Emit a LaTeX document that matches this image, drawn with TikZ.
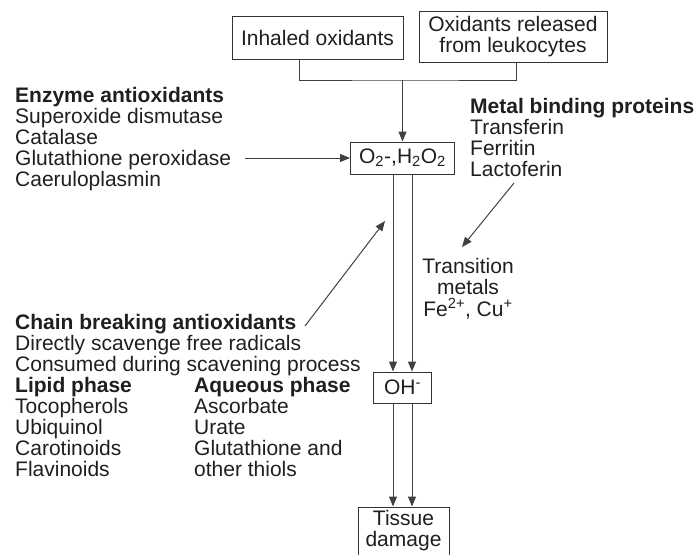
\documentclass[tikz,border=0pt]{standalone}
\usepackage{fontspec}
\setmainfont{Liberation Sans}
\usetikzlibrary{arrows.meta,calc}

\begin{document}
\begin{tikzpicture}[x=1pt,y=-1pt,
    every node/.style={font=\fontsize{21}{21}\selectfont,text=black!88},
    box/.style={draw=black!80,line width=1pt,inner sep=0pt,align=center},
    txt/.style={inner sep=0pt,align=left,anchor=base west},
    line/.style={line width=1pt,draw=black!75},
    arr/.style={line,-{Triangle[length=10pt,width=8pt]}}]
    \useasboundingbox (0,0) rectangle (698,554);

    % oxidant sources
    \node[box,minimum width=171pt,minimum height=43pt] (inhaled) at (317.5,37.5) {Inhaled oxidants};
    \node[box,minimum width=188pt,minimum height=51pt] (released) at (513,36.5) {Oxidants released\\from leukocytes};
    \coordinate (join) at (402.5,80);

    % main chain
    \node[box,minimum width=104pt,minimum height=32pt] (ros) at (402.5,158) {O\textsubscript{2}-,H\textsubscript{2}O\textsubscript{2}};
    \node[box,minimum width=58pt,minimum height=31pt] (oh) at (402.5,387.5) {OH\textsuperscript{-}};
    \node[box,minimum width=91pt,minimum height=48pt] (tissue) at (403.5,531) {Tissue\\damage};

    \draw[line] ([xshift=-18.5pt]inhaled.south) |- (join) -| ([xshift=3pt]released.south);
    \draw[arr] (join) -- (ros);
    \foreach \dx in {-9.5,9.5} {
        \draw[arr] ([xshift=\dx pt]ros.south) -- ([xshift=\dx pt]oh.north);
        \draw[arr] ([xshift=\dx pt]oh.south) -- ([xshift=\dx pt]oh.south |- tissue.north);
    }

    % antioxidants (base = last line)
    \node[txt] (enzyme) at (15,186) {\textbf{Enzyme antioxidants}\\Superoxide dismutase\\Catalase\\Glutathione peroxidase\\Caeruloplasmin};
    \coordinate (gpx) at (245,158);
    \draw[arr] (gpx) -- (ros.west);

    \node[txt] (metal) at (470,176) {\textbf{Metal binding proteins}\\Transferin\\Ferritin\\Lactoferin};
    \node[inner sep=0pt,align=center,anchor=base] (trans) at (468,316) {Transition\\metals\\[1pt]Fe\textsuperscript{2+}, Cu\textsuperscript{+}};
    \coordinate (lacto) at (514,183);
    \coordinate (tm) at (462,247);
    \draw[arr] (lacto) -- (tm);

    \node[txt] (chain) at (15,371) {\textbf{Chain breaking antioxidants}\\Directly scavenge free radicals\\Consumed during scavening process};
    \node[txt] (lipid) at (15,476) {\textbf{Lipid phase}\\Tocopherols\\Ubiquinol\\Carotinoids\\Flavinoids};
    \node[txt] (aqueous) at (194,476) {\textbf{Aqueous phase}\\Ascorbate\\Urate\\Glutathione and\\other thiols};
    \coordinate (cb) at (305,326);
    \coordinate (cbtip) at (385,221);
    \draw[arr] (cb) -- (cbtip);
\end{tikzpicture}
\end{document}
